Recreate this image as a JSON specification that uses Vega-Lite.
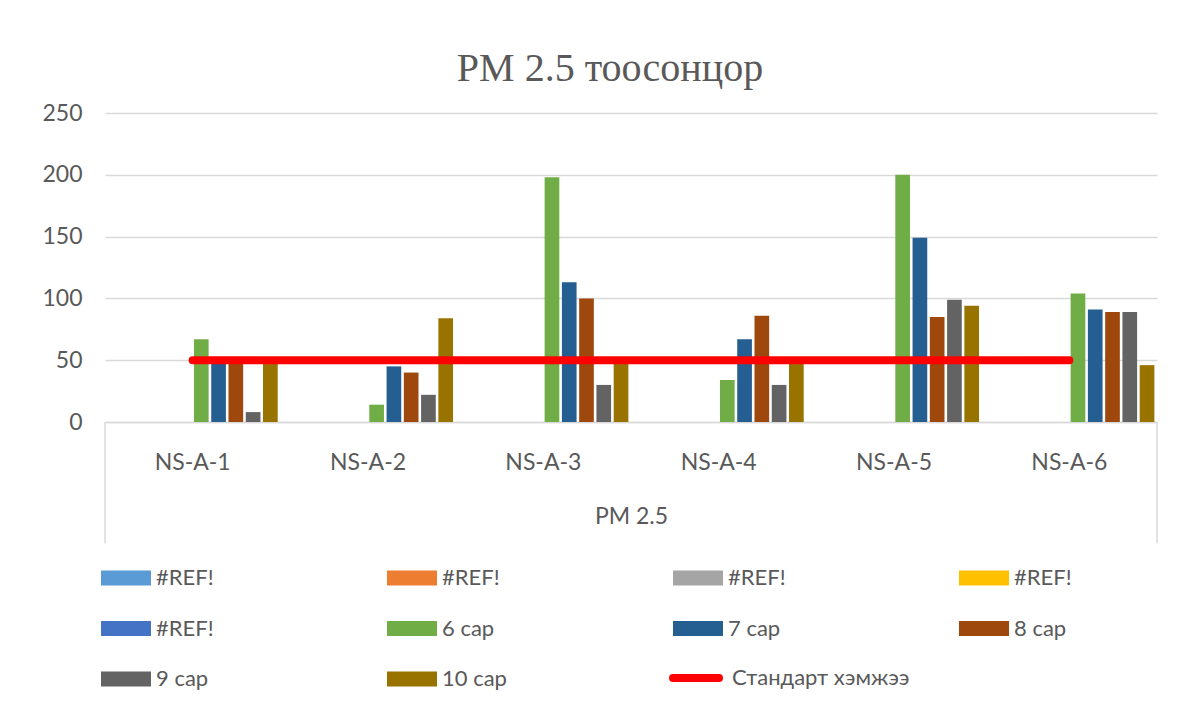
{
  "$schema": "https://vega.github.io/schema/vega-lite/v6.json",
  "width": 1052,
  "height": 309,
  "autosize": {"type": "none"},
  "padding": {"left": 105, "top": 113, "right": 42, "bottom": 295},
  "background": "white",
  "config": {
    "view": {"stroke": null},
    "font": "Lato",
    "axis": {"labelFont": "Lato", "titleFont": "Lato"},
    "legend": {"labelFont": "Lato"}
  },
  "title": {
    "text": "PM 2.5 тоосонцор",
    "font": "Liberation Serif",
    "fontSize": 40,
    "fontWeight": "normal",
    "color": "#595959",
    "anchor": "middle",
    "frame": "group",
    "offset": 13,
    "dx": -21
  },
  "datasets": {
    "bars": [
      {"site": "NS-A-1", "series": "6 сар", "value": 67},
      {"site": "NS-A-1", "series": "7 сар", "value": 50},
      {"site": "NS-A-1", "series": "8 сар", "value": 50},
      {"site": "NS-A-1", "series": "9 сар", "value": 8},
      {"site": "NS-A-1", "series": "10 сар", "value": 50},
      {"site": "NS-A-2", "series": "6 сар", "value": 14},
      {"site": "NS-A-2", "series": "7 сар", "value": 45},
      {"site": "NS-A-2", "series": "8 сар", "value": 40},
      {"site": "NS-A-2", "series": "9 сар", "value": 22},
      {"site": "NS-A-2", "series": "10 сар", "value": 84},
      {"site": "NS-A-3", "series": "6 сар", "value": 198},
      {"site": "NS-A-3", "series": "7 сар", "value": 113},
      {"site": "NS-A-3", "series": "8 сар", "value": 100},
      {"site": "NS-A-3", "series": "9 сар", "value": 30},
      {"site": "NS-A-3", "series": "10 сар", "value": 50},
      {"site": "NS-A-4", "series": "6 сар", "value": 34},
      {"site": "NS-A-4", "series": "7 сар", "value": 67},
      {"site": "NS-A-4", "series": "8 сар", "value": 86},
      {"site": "NS-A-4", "series": "9 сар", "value": 30},
      {"site": "NS-A-4", "series": "10 сар", "value": 50},
      {"site": "NS-A-5", "series": "6 сар", "value": 200},
      {"site": "NS-A-5", "series": "7 сар", "value": 149},
      {"site": "NS-A-5", "series": "8 сар", "value": 85},
      {"site": "NS-A-5", "series": "9 сар", "value": 99},
      {"site": "NS-A-5", "series": "10 сар", "value": 94},
      {"site": "NS-A-6", "series": "6 сар", "value": 104},
      {"site": "NS-A-6", "series": "7 сар", "value": 91},
      {"site": "NS-A-6", "series": "8 сар", "value": 89},
      {"site": "NS-A-6", "series": "9 сар", "value": 89},
      {"site": "NS-A-6", "series": "10 сар", "value": 46}
    ],
    "std": [
      {"site": "NS-A-1", "name": "Стандарт хэмжээ", "value": 50},
      {"site": "NS-A-2", "name": "Стандарт хэмжээ", "value": 50},
      {"site": "NS-A-3", "name": "Стандарт хэмжээ", "value": 50},
      {"site": "NS-A-4", "name": "Стандарт хэмжээ", "value": 50},
      {"site": "NS-A-5", "name": "Стандарт хэмжээ", "value": 50},
      {"site": "NS-A-6", "name": "Стандарт хэмжээ", "value": 50}
    ],
    "leftEdge": [{"site": "NS-A-1"}],
    "rightEdge": [{"site": "NS-A-6"}]
  },
  "layer": [
    {
      "data": {"name": "bars"},
      "mark": {"type": "bar"},
      "encoding": {
        "x": {
          "field": "site",
          "type": "nominal",
          "scale": {"domain": ["NS-A-1", "NS-A-2", "NS-A-3", "NS-A-4", "NS-A-5", "NS-A-6"], "paddingInner": 0.03, "paddingOuter": 0.015},
          "axis": {
            "title": "PM 2.5",
            "ticks": false,
            "domainColor": "#d9d9d9",
            "domainWidth": 1.5,
            "labelPadding": 29,
            "labelFontSize": 23,
            "labelColor": "#595959",
            "labelAngle": 0,
            "titleFontSize": 23,
            "titleFontWeight": "normal",
            "titleColor": "#595959",
            "titlePadding": 31
          }
        },
        "xOffset": {
          "field": "series",
          "type": "nominal",
          "scale": {"domain": ["#REF!1", "#REF!2", "#REF!3", "#REF!4", "#REF!5", "6 сар", "7 сар", "8 сар", "9 сар", "10 сар"], "paddingInner": 0.15}
        },
        "y": {
          "field": "value",
          "type": "quantitative",
          "scale": {"domain": [0, 250], "nice": false},
          "axis": {
            "values": [0, 50, 100, 150, 200, 250],
            "ticks": false,
            "domain": false,
            "labelPadding": 23,
            "labelFontSize": 23,
            "labelColor": "#595959",
            "gridColor": "#d9d9d9",
            "gridWidth": 1.5,
            "title": null
          }
        },
        "color": {
          "field": "series",
          "type": "nominal",
          "scale": {
            "domain": ["#REF!1", "#REF!2", "#REF!3", "#REF!4", "#REF!5", "6 сар", "7 сар", "8 сар", "9 сар", "10 сар"],
            "range": ["#5B9BD5", "#ED7D31", "#A5A5A5", "#FFC000", "#4472C4", "#70AD47", "#255E91", "#9E480E", "#636363", "#997300"]
          },
          "legend": {
            "orient": "none",
            "legendX": -4,
            "legendY": 440,
            "direction": "horizontal",
            "columns": 4,
            "title": null,
            "symbolType": "M-1,-0.3H1V0.3H-1Z",
            "symbolSize": 2500,
            "symbolStrokeWidth": 0,
            "symbolOpacity": 1,
            "labelFontSize": 22,
            "labelColor": "#595959",
            "labelOffset": 5,
            "gridAlign": "all",
            "columnPadding": 166,
            "rowPadding": 14.5,
            "labelExpr": "indexof(datum.label, '#REF!') == 0 ? '#REF!' : datum.label"
          }
        }
      }
    },
    {
      "data": {"name": "std"},
      "mark": {"type": "line", "strokeWidth": 8, "strokeCap": "round"},
      "encoding": {
        "x": {"field": "site", "type": "nominal"},
        "y": {"field": "value", "type": "quantitative"},
        "stroke": {
          "field": "name",
          "type": "nominal",
          "scale": {"range": ["#FF0000"]},
          "legend": {
            "orient": "none",
            "legendX": 564,
            "legendY": 538,
            "title": null,
            "symbolType": "stroke",
            "symbolSize": 2116,
            "symbolStrokeWidth": 8,
            "labelFontSize": 22,
            "labelColor": "#595959",
            "labelOffset": 9,
            "labelLimit": 400,
            "encode": {"symbols": {"update": {"strokeCap": {"value": "round"}}}}
          }
        }
      }
    },
    {
      "data": {"name": "leftEdge"},
      "mark": {"type": "rule", "color": "#d9d9d9", "strokeWidth": 1.5},
      "encoding": {
        "x": {"field": "site", "type": "nominal", "bandPosition": -0.0155},
        "y": {"datum": 0},
        "y2": {"datum": -98}
      }
    },
    {
      "data": {"name": "rightEdge"},
      "mark": {"type": "rule", "color": "#d9d9d9", "strokeWidth": 1.5},
      "encoding": {
        "x": {"field": "site", "type": "nominal", "bandPosition": 1.0155},
        "y": {"datum": 0},
        "y2": {"datum": -98}
      }
    }
  ]
}
